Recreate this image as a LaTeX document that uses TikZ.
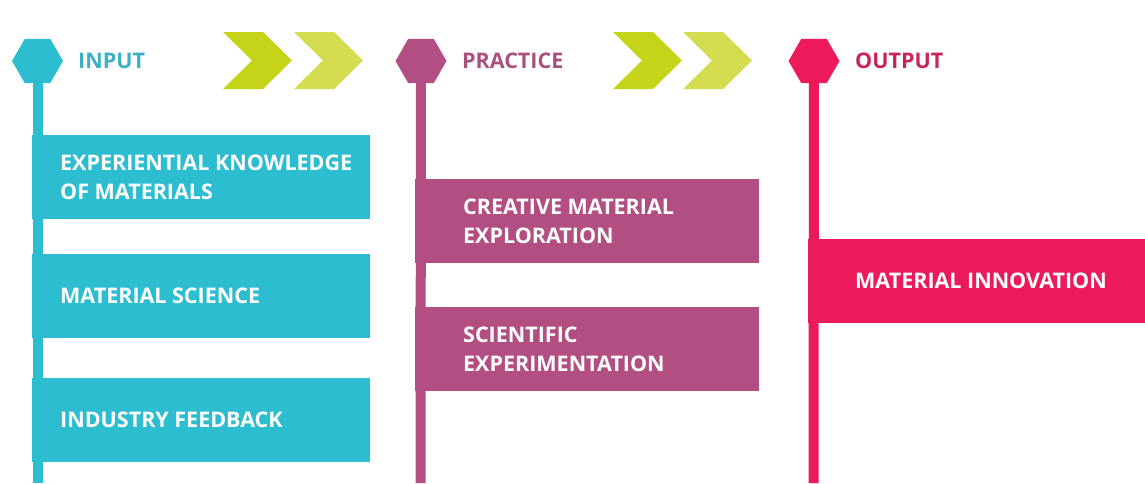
\documentclass[tikz,border=0pt]{standalone}
\usepackage{fontspec}
\setmainfont{Open Sans}
\usetikzlibrary{positioning,shapes.geometric}

\definecolor{incyan}{HTML}{2DBDD0}
\definecolor{intitle}{HTML}{3BAFC6}
\definecolor{pracmag}{HTML}{B24E82}
\definecolor{practitle}{HTML}{A8507E}
\definecolor{outpink}{HTML}{EC1A5A}
\definecolor{outtitle}{HTML}{C92459}
\definecolor{chevA}{HTML}{C5D419}
\definecolor{chevB}{HTML}{D3DD4F}

\tikzset{
  hexcap/.style={regular polygon, regular polygon sides=6, minimum size=51pt,
                 inner sep=0pt, fill=#1},
  stem/.style={line width=10pt, draw=#1},
  card/.style={rectangle, fill=#1, inner sep=0pt, minimum height=84pt},
  cardtext/.style={inner sep=0pt, text=white, align=left,
                   font=\bfseries\fontsize{21.5}{29}\selectfont},
  coltitle/.style={inner sep=0pt, anchor=west, text=#1,
                   font=\bfseries\fontsize{21.5}{25}\selectfont},
  chev/.pic={\fill[pic actions] (0,0) -- (40,0) -- (69,28.5) -- (40,57)
               -- (0,57) -- (29,28.5) -- cycle;}
}

\begin{document}
\begin{tikzpicture}[x=1pt, y=-1pt]
  \useasboundingbox (0,0) rectangle (1145,483);

  % head centres and stem ends
  \coordinate (capin)   at (37.5,61);
  \coordinate (capprac) at (421,61);
  \coordinate (capout)  at (814,61);
  \coordinate (inend)   at (37.5,483);
  \coordinate (pracend) at (420.5,483);
  \coordinate (outend)  at (813.5,483);

  % stems first, heads on top
  \draw[stem=incyan]  (capin)   -- (inend);
  \draw[stem=pracmag] (capprac) -- (pracend);
  \draw[stem=outpink] (capout)  -- (outend);
  \node[hexcap=incyan]  (hin)   at (capin)   {};
  \node[hexcap=pracmag] (hprac) at (capprac) {};
  \node[hexcap=outpink] (hout)  at (capout)  {};
  \node[coltitle=intitle]   (tin)   at (78,61)  {INPUT};
  \node[coltitle=practitle] (tprac) at (462,61) {PRACTICE};
  \node[coltitle=outtitle]  (tout)  at (855,61) {OUTPUT};

  % chevrons between the columns
  \foreach \x/\c in {223/chevA, 294/chevB, 613/chevA, 683/chevB}
    \pic[fill=\c] at (\x,32) {chev};

  % input cards
  \node[card=incyan, minimum width=338pt, anchor=north west] (cexp) at (32,135) {};
  \node[card=incyan, minimum width=338pt, anchor=north west] (csci) at (32,254) {};
  \node[card=incyan, minimum width=338pt, anchor=north west] (cind) at (32,378) {};
  \node[cardtext, right=28pt of cexp.west] {EXPERIENTIAL KNOWLEDGE\\OF MATERIALS};
  \node[cardtext, right=28pt of csci.west] {MATERIAL SCIENCE};
  \node[cardtext, right=28pt of cind.west] {INDUSTRY FEEDBACK};

  % practice cards
  \node[card=pracmag, minimum width=344pt, anchor=north west] (ccre) at (415,179) {};
  \node[card=pracmag, minimum width=344pt, anchor=north west] (cexpt) at (415,307) {};
  \node[cardtext, right=48pt of ccre.west]  {CREATIVE MATERIAL\\EXPLORATION};
  \node[cardtext, right=48pt of cexpt.west] {SCIENTIFIC\\EXPERIMENTATION};

  % output card
  \node[card=outpink, minimum width=337pt, anchor=north west] (cinn) at (808,239) {};
  \node[cardtext, right=47pt of cinn.west] {MATERIAL INNOVATION};
\end{tikzpicture}
\end{document}
